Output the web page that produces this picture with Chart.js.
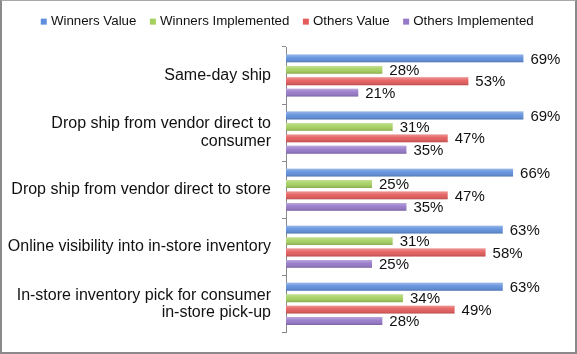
<!DOCTYPE html>
<html>
<head>
<meta charset="utf-8">
<script src="https://cdn.jsdelivr.net/npm/chart.js@4"></script>
<style>
  html, body { margin: 0; padding: 0; background: #fff; }
  .box {
    position: absolute; left: 0; top: 0;
    width: 577px; height: 354px; box-sizing: border-box;
    border-left: 2px solid #8a8a8a; border-top: 1px solid #a8a8a8;
    border-right: 2px solid #8a8a8a; border-bottom: 2px solid #8a8a8a;
  }
  canvas { display: block; }
</style>
</head>
<body>
<div class="box"><canvas id="chart" width="573" height="351"></canvas></div>
<script>
  // 항목
  const categories = [
    'Same-day ship',
    ['Drop ship from vendor direct to', 'consumer'],
    'Drop ship from vendor direct to store',
    'Online visibility into in-store inventory',
    ['In-store inventory pick for consumer', 'in-store pick-up']
  ];
  const seriesNames = ['Winners Value', 'Winners Implemented', 'Others Value', 'Others Implemented'];
  const winnersValue = [69, 69, 66, 63, 63];
  const winnersImplemented = [28, 31, 25, 31, 34];
  const othersValue = [53, 47, 47, 58, 49];
  const othersImplemented = [21, 35, 35, 25, 28];
  const colors = ['#5f8fdc', '#a4d05e', '#e45b5b', '#9678c8'];

  const FONT = "'Liberation Sans', Arial, sans-serif";

  // 막대 광택 효과
  const glossPlugin = {
    id: 'gloss',
    afterDatasetsDraw(chart) {
      const c = chart.ctx;
      chart.data.datasets.forEach((ds, i) => {
        const meta = chart.getDatasetMeta(i);
        meta.data.forEach(bar => {
          const p = bar.getProps(['x', 'y', 'base', 'height'], true);
          const top = p.y - p.height / 2;
          const g = c.createLinearGradient(0, top, 0, top + p.height);
          g.addColorStop(0, 'rgba(255,255,255,0.35)');
          g.addColorStop(0.45, 'rgba(255,255,255,0.05)');
          g.addColorStop(1, 'rgba(0,0,0,0.18)');
          c.save();
          c.fillStyle = g;
          c.fillRect(p.base, top, p.x - p.base, p.height);
          c.restore();
        });
      });
    }
  };

  // 값 라벨
  const valueLabels = {
    id: 'valueLabels',
    afterDatasetsDraw(chart) {
      const c = chart.ctx;
      c.save();
      c.font = '15px ' + FONT;
      c.fillStyle = '#111';
      c.textAlign = 'left';
      c.textBaseline = 'middle';
      chart.data.datasets.forEach((ds, i) => {
        chart.getDatasetMeta(i).data.forEach((bar, j) => {
          c.fillText(ds.data[j] + '%', bar.x + 7, bar.y + 1);
        });
      });
      c.restore();
    }
  };

  // 범례 높이 고정
  const legendHeight = {
    id: 'legendHeight',
    beforeInit(chart) {
      const fit = chart.legend.fit;
      chart.legend.fit = function () {
        fit.call(this);
        this.height = 48;
      };
    }
  };

  const allData = [winnersValue, winnersImplemented, othersValue, othersImplemented];

  new Chart(document.getElementById('chart'), {
    type: 'bar',
    data: {
      labels: categories,
      datasets: seriesNames.map((name, i) => ({
        label: name,
        data: allData[i],
        backgroundColor: colors[i],
        borderWidth: 0,
        categoryPercentage: 0.8,
        barPercentage: 0.69
      }))
    },
    options: {
      indexAxis: 'y',
      responsive: false,
      animation: false,
      layout: { padding: { left: 0, right: 0, top: -2, bottom: 14 } },
      plugins: {
        legend: {
          position: 'top',
          labels: {
            usePointStyle: true,
            pointStyle: 'rect',
            boxWidth: 1,
            boxHeight: 6,
            padding: 16,
            color: '#111',
            font: { family: FONT, size: 13.3 }
          }
        },
        tooltip: { enabled: false }
      },
      scales: {
        x: { display: false, min: 0, max: 84 },
        y: {
          afterFit(scale) { scale.width = 284; },
          grid: {
            drawOnChartArea: false,
            tickLength: 4,
            color: '#8a8a8a'
          },
          border: { color: '#8a8a8a' },
          ticks: {
            padding: 11,
            color: '#111',
            font: { family: FONT, size: 16, lineHeight: 1.07 }
          }
        }
      }
    },
    plugins: [legendHeight, glossPlugin, valueLabels]
  });
</script>
</body>
</html>
